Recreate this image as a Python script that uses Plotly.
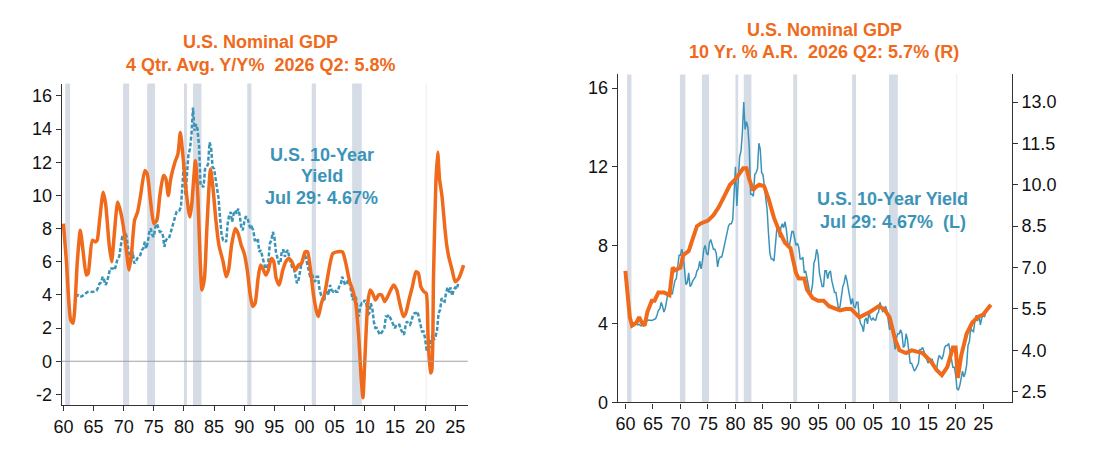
import plotly.graph_objects as go

# ---------- data ----------
yield_q_years = [1962 + i * 0.25 for i in range(255)]
yield_q = [
 4.05,3.95,3.98,3.90, 3.90,3.98,4.02,4.10, 4.18,4.20,4.18,4.18, 4.20,4.22,4.27,4.45,
 4.70,4.75,5.10,4.90, 4.60,4.80,5.20,5.60, 5.60,5.60,5.50,5.90, 6.20,6.30,7.00,7.50,
 7.50,7.80,7.50,6.80, 6.00,6.10,6.60,5.90, 6.00,6.20,6.30,6.40, 6.70,6.80,7.20,6.80,
 7.20,7.80,8.00,7.60, 7.50,8.10,8.30,8.10, 7.80,7.80,7.60,6.90, 7.30,7.40,7.40,7.70,
 8.00,8.30,8.60,9.00, 9.10,9.10,9.30,10.40, 12.00,10.00,11.00,12.50, 12.80,13.70,15.30,13.90,
 14.30,14.00,13.00,10.60, 10.60,10.50,11.60,11.70, 11.90,13.20,12.90,11.70, 11.60,11.00,10.40,9.80,
 8.60,7.60,7.30,7.30, 7.20,8.30,8.80,9.00, 8.40,8.90,9.10,8.90, 9.20,8.80,8.10,7.90,
 8.40,8.70,8.70,8.40, 8.00,8.10,7.90,7.30, 7.30,7.40,6.60,6.70, 6.30,5.90,5.60,5.60,
 6.00,7.10,7.30,7.80, 7.50,6.60,6.30,5.90, 5.90,6.70,6.70,6.30, 6.60,6.70,6.20,5.90,
 5.60,5.60,5.20,4.70, 4.90,5.50,5.90,6.10, 6.50,6.20,5.80,5.60, 5.00,5.30,4.90,4.80,
 5.10,5.10,4.30,4.00, 3.90,3.60,4.20,4.30, 4.00,4.60,4.30,4.20, 4.30,4.20,4.20,4.50,
 4.60,5.10,4.90,4.60, 4.70,4.90,4.70,4.30, 3.70,3.90,3.90,3.30, 2.70,3.30,3.50,3.50,
 3.70,3.50,2.80,2.90, 3.50,3.20,2.40,2.00, 2.00,1.80,1.60,1.70, 1.90,2.00,2.70,2.70,
 2.80,2.60,2.50,2.30, 2.00,2.20,2.20,2.20, 1.90,1.70,1.60,2.10, 2.40,2.30,2.20,2.40,
 2.80,2.90,2.90,3.00, 2.65,2.30,1.80,1.80, 1.40,0.70,0.65,0.85, 1.30,1.60,1.30,1.50,
 1.90,2.90,3.10,3.80, 3.65,3.60,4.15,4.45, 4.15,4.45,3.95,4.30, 4.45,4.35,4.67,
]

gdp4_years = [1960.0,1960.5,1961.2,1961.6,1962.3,1962.8,1963.3,1963.8,1964.1,1964.8,1965.3,1965.6,
 1966.0,1966.6,1967.0,1967.6,1968.0,1968.4,1969.0,1969.5,1970.0,1970.5,1970.9,1971.3,1971.8,1972.3,
 1972.8,1973.5,1973.9,1974.5,1975.0,1975.5,1976.0,1976.6,1977.0,1977.4,1977.8,1978.5,1979.0,1979.4,
 1979.8,1980.3,1980.8,1981.0,1981.3,1981.9,1982.3,1982.7,1983.0,1983.4,1983.8,1984.4,1984.8,1985.3,
 1985.8,1986.5,1987.0,1987.4,1987.9,1988.5,1989.0,1989.5,1990.0,1990.5,1991.0,1991.4,1991.8,1992.3,
 1992.7,1993.2,1993.6,1994.0,1994.5,1994.9,1995.3,1995.8,1996.4,1996.9,1997.4,1997.9,1998.5,1999.0,
 1999.5,2000.1,2000.5,2001.0,2001.5,2002.0,2002.3,2002.8,2003.3,2003.8,2004.3,2004.7,2005.5,2006.3,
 2006.8,2007.5,2008.0,2008.5,2009.0,2009.4,2009.7,2010.0,2010.5,2010.9,2011.3,2011.8,2012.3,2012.8,
 2013.3,2013.8,2014.3,2014.8,2015.3,2015.8,2016.4,2016.8,2017.4,2017.9,2018.5,2018.9,2019.3,2019.8,
 2020.2,2020.5,2020.9,2021.1,2021.4,2021.8,2022.1,2022.4,2022.8,2023.3,2023.6,2024.0,2024.5,2025.0,
 2025.6,2026.4]
gdp4 = [8.3,6,2.5,2.3,6,7.9,6.5,5.2,5.3,7.3,7.2,7.3,
 8.5,10.2,9.5,7,6,7.5,9.6,9,8,6.5,5.5,6.5,8.5,9,
 10,11.5,11.3,9.5,8.3,8.5,10,11.2,11,10,11,12,12.5,13.8,
 12.5,10.5,9.0,8.7,9.5,12.1,10,6,4.3,5,8,11.6,10.5,8.5,
 7,6,5.1,5.5,7,8,7.7,7,6.5,5.5,4,3.3,3.5,5,
 5.8,5.5,5.2,5.5,6.2,6,5,4.6,5.5,6,6.2,6,5.5,5.8,
 5.9,6.6,6.6,5.5,4,3,2.7,3.5,4,5,6,6.5,6.6,6.6,
 6,4.8,4.3,3.5,1.5,-1,-2.2,0,3.5,4.3,4.1,3.7,4.0,4.0,
 3.6,3.9,4.3,4.6,4.3,3.5,2.7,2.9,3.8,4.5,5.4,5.3,4.5,4.2,
 4.1,1.5,-0.7,-0.6,5,10.8,12.6,11,10,8,7,6.2,5.5,4.8,
 5.0,5.8]

gdp10_years = [1960.0,1960.8,1961.2,1962.0,1962.5,1963.0,1963.5,1964.0,1964.8,1965.3,1966.0,1967.0,
 1968.0,1968.6,1969.0,1970.0,1970.5,1971.5,1972.0,1973.0,1973.7,1975.0,1976.0,1977.0,1978.0,1979.0,
 1980.0,1980.7,1981.4,1982.0,1982.5,1983.2,1983.6,1984.3,1985.2,1986.0,1987.0,1988.0,1989.0,1990.0,
 1991.0,1991.5,1992.5,1993.0,1994.0,1995.0,1996.0,1997.0,1999.0,2000.0,2001.0,2002.5,2003.5,2004.5,
 2006.0,2007.0,2008.0,2009.0,2009.8,2011.0,2012.0,2014.0,2015.5,2016.5,2017.5,2018.5,2019.5,2020.0,
 2020.4,2021.0,2022.0,2023.0,2024.0,2025.0,2026.4]
gdp10 = [6.88,5.2,4.9,5.0,5.2,5.0,4.9,5.4,5.8,5.8,6.1,6.1,
 6.0,7.0,6.9,7.0,7.45,7.6,7.9,8.5,8.6,8.7,8.9,9.2,9.6,10.0,
 10.2,10.4,10.6,10.6,10.2,9.8,9.9,10.0,9.95,9.5,8.8,8.3,7.9,7.7,
 6.8,6.6,6.6,6.2,5.9,5.8,5.8,5.6,5.45,5.5,5.5,5.2,5.3,5.4,
 5.6,5.5,5.2,4.4,4.0,3.9,4.0,3.9,3.6,3.3,3.1,3.4,4.1,4.1,
 3.0,3.8,4.6,5.0,5.2,5.3,5.65]

recessions = [(1960.3,1961.1),(1969.9,1970.9),(1973.9,1975.2),(1980.0,1980.5),(1981.5,1982.9),
              (1990.5,1991.2),(2001.2,2001.9),(2007.9,2009.5)]
covid_recession = (2020.1, 2020.3)
x_ticks = [1960 + 5 * i for i in range(14)]
x_labels = ["60","65","70","75","80","85","90","95","00","05","10","15","20","25"]
left_y_ticks = [-2, 0, 2, 4, 6, 8, 10, 12, 14, 16]
left_y_labels = ["-2", "0", "2", "4", "6", "8", "10", "12", "14", "16"]

ORANGE = "#f06a1c"
TEAL = "#3b94b8"
FONT = "Liberation Sans"

fig = go.Figure()
fig.add_trace(go.Scatter(x=yield_q_years, y=yield_q, mode="lines", xaxis="x", yaxis="y",
                         line=dict(color=TEAL, width=2.5, dash="4px,2px")))
fig.add_trace(go.Scatter(x=gdp4_years, y=gdp4, mode="lines", xaxis="x", yaxis="y",
                         line=dict(color=ORANGE, width=3.5, shape="spline", smoothing=0.6)))
fig.add_trace(go.Scatter(x=yield_q_years, y=yield_q, mode="lines", xaxis="x2", yaxis="y2",
                         line=dict(color=TEAL, width=1.5)))
fig.add_trace(go.Scatter(x=gdp10_years, y=gdp10, mode="lines", xaxis="x2", yaxis="y3",
                         line=dict(color=ORANGE, width=4)))

shapes = []
for a, b in recessions:
    for xr, yr in (("x", "y domain"), ("x2", "y2 domain")):
        shapes.append(dict(type="rect", xref=xr, yref=yr, x0=a, x1=b, y0=0, y1=1,
                           fillcolor="#d6dce6", line_width=0, layer="below"))
for xr, yr in (("x", "y domain"), ("x2", "y2 domain")):
    shapes.append(dict(type="rect", xref=xr, yref=yr, x0=covid_recession[0], x1=covid_recession[1],
                       y0=0, y1=1, fillcolor="#eef0f4", line_width=0, layer="below"))
shapes.append(dict(type="line", xref="x domain", yref="y", x0=0, x1=1, y0=0, y1=0,
                   line=dict(color="#a0a0a0", width=1.2)))

axis_common = dict(showgrid=False, zeroline=False, showline=True, linecolor="#333", linewidth=1.2,
                   ticks="outside", ticklen=5, tickcolor="#333",
                   tickfont=dict(family=FONT, size=18, color="#111"))

fig.update_layout(
    width=1110, height=465, margin=dict(l=0, r=0, t=0, b=0),
    paper_bgcolor="white", plot_bgcolor="white", showlegend=False,
    shapes=shapes,
    xaxis=dict(domain=[0.0414, 0.41], range=[1959.7, 2027.1], tickvals=x_ticks, ticktext=x_labels,
               anchor="y", **axis_common),
    yaxis=dict(domain=[0.127, 0.834], range=[-2.65, 16.75], tickvals=left_y_ticks,
               ticktext=left_y_labels, anchor="x", **axis_common),
    xaxis2=dict(domain=[0.546, 0.9036], range=[1958.6, 2030.2], tickvals=x_ticks, ticktext=x_labels,
                anchor="y2", **axis_common),
    yaxis2=dict(domain=[0.133, 0.854], range=[0, 16.7], tickvals=[0, 4, 8, 12, 16], anchor="x2",
                **axis_common),
    yaxis3=dict(overlaying="y2", side="right", range=[2.11, 14.0],
                tickvals=[2.5, 4.0, 5.5, 7.0, 8.5, 10.0, 11.5, 13.0],
                ticktext=["2.5", "4.0", "5.5", "7.0", "8.5", "10.0", "11.5", "13.0"],
                anchor="x2", **axis_common),
)

def ann(x, y, text, color, size):
    fig.add_annotation(x=x / 1110, y=1 - y / 465, xref="paper", yref="paper", text=text,
                       showarrow=False, xanchor="center", yanchor="middle",
                       font=dict(family=FONT, size=size, color=color))

ann(246, 35, "<b>U.S. Nominal GDP</b>", ORANGE, 18)
ann(246, 58, "<b>4 Qtr. Avg. Y/Y%  2026 Q2: 5.8%</b>", ORANGE, 18)
ann(814, 22, "<b>U.S. Nominal GDP</b>", ORANGE, 18)
ann(814, 45, "<b>10 Yr. % A.R.  2026 Q2: 5.7% (R)</b>", ORANGE, 18)
ann(308, 150, "<b>U.S. 10-Year</b>", TEAL, 18)
ann(308, 172, "<b>Yield</b>", TEAL, 18)
ann(308, 194, "<b>Jul 29: 4.67%</b>", TEAL, 18)
ann(883, 195, "<b>U.S. 10-Year Yield</b>", TEAL, 18)
ann(883, 219, "<b>Jul 29: 4.67%  (L)</b>", TEAL, 18)

fig.write_html("out.html")
